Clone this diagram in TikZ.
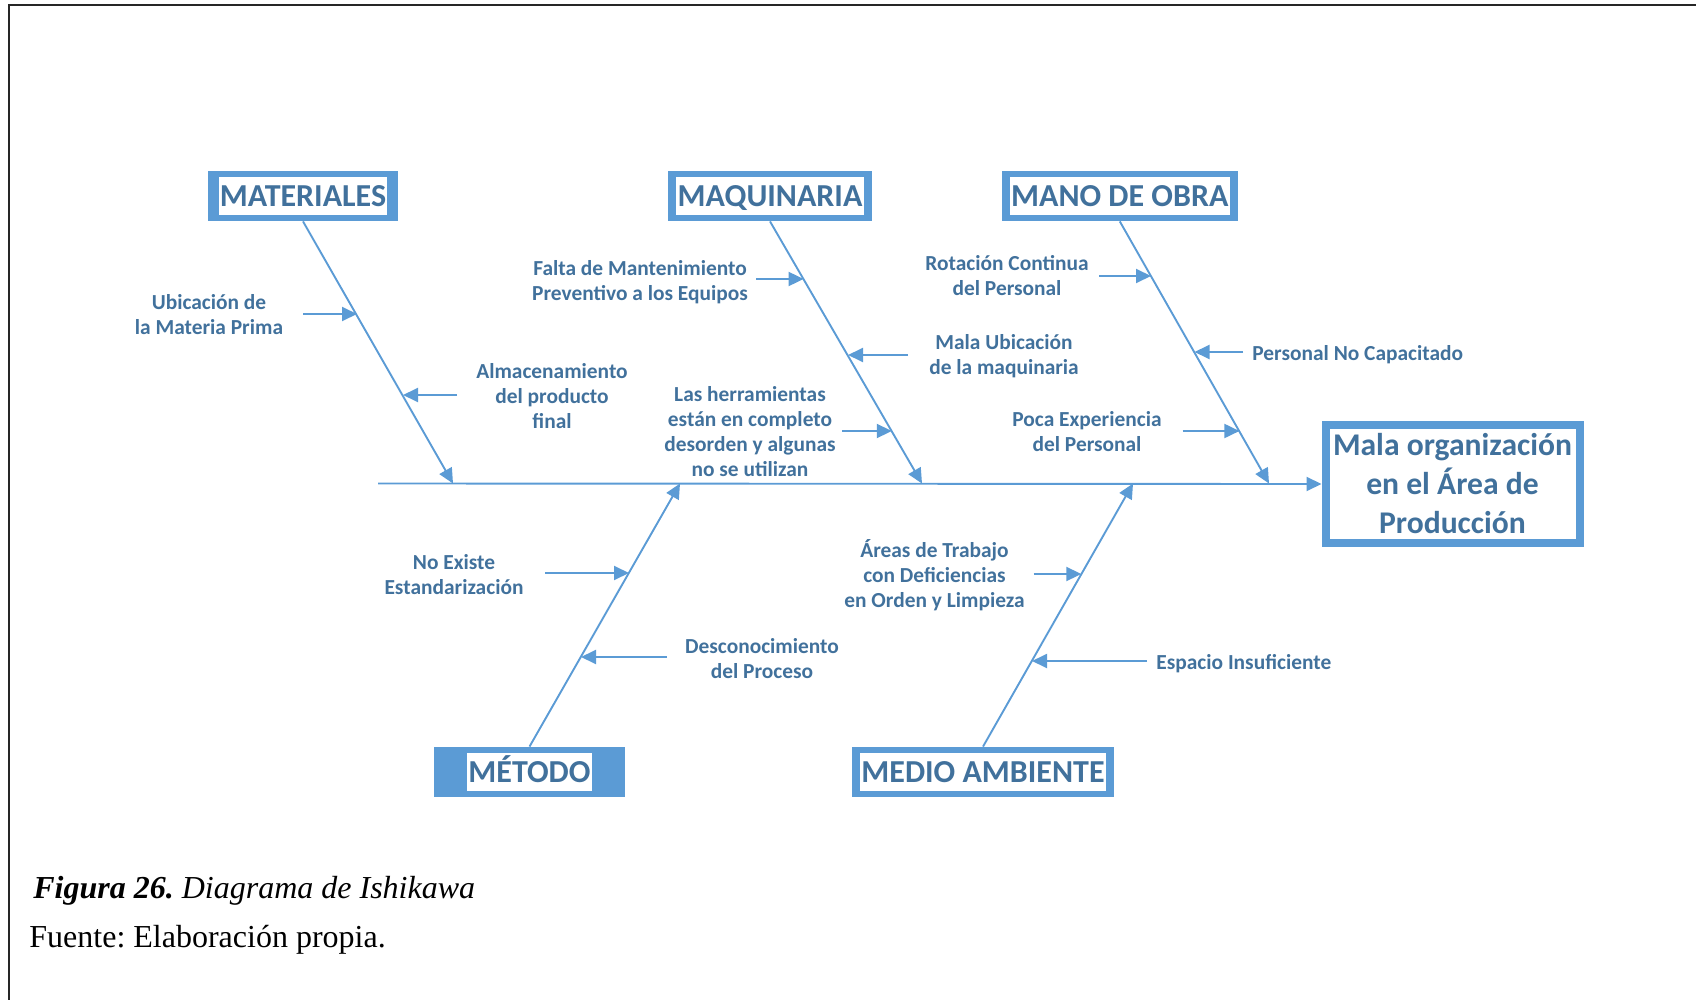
\documentclass[tikz,border=0pt]{standalone}
\usepackage{fontspec}
\newfontfamily\carlito{Carlito}
\newfontfamily\timesrm{Liberation Serif}
\usetikzlibrary{arrows.meta}
\definecolor{fishblue}{HTML}{5B9BD5}
\definecolor{ink}{HTML}{41719C}
\frenchspacing
\tikzset{
  catbox/.style={fill=fishblue, draw=none, inner sep=0pt, minimum height=25pt},
  cattext/.style={fill=white, text=ink, inner xsep=0.6pt, inner ysep=0pt,
    minimum height=19pt, text height=10.7pt, text depth=0pt,
    font=\carlito\bfseries\fontsize{16}{19}\selectfont},
  effect/.style={draw=fishblue, line width=4pt, fill=white, text=ink, align=center,
    minimum width=127pt, minimum height=59pt, inner sep=0pt,
    font=\carlito\bfseries\fontsize{15.8}{19.5}\selectfont},
  cause/.style={text=ink, align=center, inner sep=0pt,
    font=\carlito\bfseries\fontsize{10.7}{12.5}\selectfont},
  ribarrow/.style={draw=fishblue, line width=0.95pt, -{Triangle[length=7.5pt,width=7pt]}},
  caption/.style={anchor=base west, inner sep=0pt, text=black,
    font=\timesrm\fontsize{16}{19}\selectfont}
}
\begin{document}
\begin{tikzpicture}[x=0.5pt,y=-0.5pt]
\useasboundingbox (0,0) rectangle (1696,1000);
% page frame (top and left rules)
\draw[line width=1pt, black!85] (9,1000) -- (9,5.5) -- (1696,5.5);

% effect box
\node[effect] (eff) at (1452.5,484) {Mala organización\\en el Área de\\Producción};

% category boxes
\node[catbox, minimum width=95pt]   (mat) at (303,196) {};
\node[cattext] (matlbl) at (mat) {MATERIALES};
\node[catbox, minimum width=102pt]  (maq) at (770,196) {};
\node[cattext] (maqlbl) at (maq) {MAQUINARIA};
\node[catbox, minimum width=117.8pt] (mano) at (1119.8,196) {};
\node[cattext] (manolbl) at (mano) {MANO DE OBRA};
\node[catbox, minimum width=95.5pt] (met) at (529.5,772) {};
\node[cattext] (metlbl) at (met) {MÉTODO};
\node[catbox, minimum width=131pt]  (med) at (983,772) {};
\node[cattext] (medlbl) at (med) {MEDIO AMBIENTE};

% spine
\coordinate (tail) at (378,483.5);
\draw[ribarrow] (tail) -- (eff.west);

% main bones
\coordinate (matS)  at (453,483.5);
\coordinate (maqS)  at (922,483.5);
\coordinate (manoS) at (1269,483.5);
\coordinate (metS)  at (680,483.5);
\coordinate (medS)  at (1133,483.5);
\draw[ribarrow] (mat.south)  -- (matS);
\draw[ribarrow] (maq.south)  -- (maqS);
\draw[ribarrow] (mano.south) -- (manoS);
\draw[ribarrow] (met.north)  -- (metS);
\draw[ribarrow] (med.north)  -- (medS);

% causes: MATERIALES
\node[cause] (c1) at (209,314.5) {Ubicación de\\la Materia Prima};
\coordinate (c1a) at (303,314);  \coordinate (c1b) at (357,314);
\draw[ribarrow] (c1a) -- (c1b);
\node[cause] (c2) at (552,396) {Almacenamiento\\del producto\\final};
\coordinate (c2a) at (457,395);  \coordinate (c2b) at (403,395);
\draw[ribarrow] (c2a) -- (c2b);

% causes: MAQUINARIA
\node[cause] (c3) at (640,282.5) {Falta de Mantenimiento\\Preventivo a los Equipos};
\coordinate (c3a) at (756,279);  \coordinate (c3b) at (803.6,279);
\draw[ribarrow] (c3a) -- (c3b);
\node[cause] (c4) at (1004,356.5) {Mala Ubicación\\de la maquinaria};
\coordinate (c4a) at (908,355);  \coordinate (c4b) at (848,355);
\draw[ribarrow] (c4a) -- (c4b);
\node[cause] (c5) at (750,431.5) {Las herramientas\\están en completo\\desorden y algunas\\no se utilizan};
\coordinate (c5a) at (842,431);  \coordinate (c5b) at (891.8,431);
\draw[ribarrow] (c5a) -- (c5b);

% causes: MANO DE OBRA
\node[cause] (c6) at (1007,276) {Rotación Continua\\del Personal};
\coordinate (c6a) at (1099,276); \coordinate (c6b) at (1151,276);
\draw[ribarrow] (c6a) -- (c6b);
\node[cause, anchor=west] (c7) at (1252,355) {Personal No Capacitado};
\coordinate (c7a) at (1243,352); \coordinate (c7b) at (1194.5,352);
\draw[ribarrow] (c7a) -- (c7b);
\node[cause] (c8) at (1087,431.5) {Poca Experiencia\\del Personal};
\coordinate (c8a) at (1182.5,431); \coordinate (c8b) at (1239.4,431);
\draw[ribarrow] (c8a) -- (c8b);

% causes: MÉTODO
\node[cause] (c9) at (454,574.5) {No Existe\\Estandarización};
\coordinate (c9a) at (545,573);  \coordinate (c9b) at (629,573);
\draw[ribarrow] (c9a) -- (c9b);
\node[cause] (c10) at (762,659) {Desconocimiento\\del Proceso};
\coordinate (c10a) at (667,657); \coordinate (c10b) at (581,657);
\draw[ribarrow] (c10a) -- (c10b);

% causes: MEDIO AMBIENTE
\node[cause] (c11) at (934.5,575.5) {Áreas de Trabajo\\con Deficiencias\\en Orden y Limpieza};
\coordinate (c11a) at (1033.5,574); \coordinate (c11b) at (1081.3,574);
\draw[ribarrow] (c11a) -- (c11b);
\node[cause, anchor=west] (c12) at (1156,664) {Espacio Insuficiente};
\coordinate (c12a) at (1147,661); \coordinate (c12b) at (1032,661);
\draw[ribarrow] (c12a) -- (c12b);

% caption
\node[caption] (cap) at (33,898) {\textbf{\textit{Figura 26.}} \textit{Diagrama de Ishikawa}};
\node[caption] (src) at (29,947) {Fuente: Elaboración propia.};
\end{tikzpicture}
\end{document}
